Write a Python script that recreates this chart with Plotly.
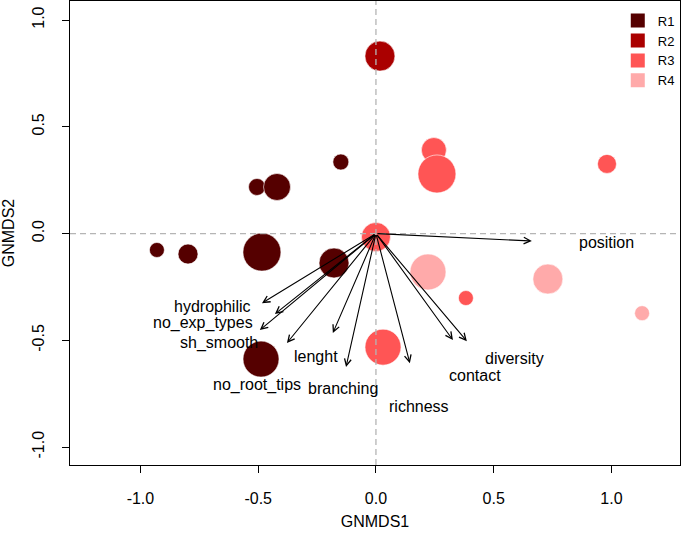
import plotly.graph_objects as go

# ---- data -------------------------------------------------------------
groups = ["R1", "R2", "R3", "R4"]
group_colors = ["#550000", "#aa0000", "#ff5555", "#ffaaaa"]

r1_x = [-0.149, -0.505, -0.420, -0.930, -0.798, -0.484, -0.178, -0.488]
r1_y = [0.335, 0.218, 0.218, -0.077, -0.096, -0.087, -0.138, -0.588]
r1_cex = [1.6, 1.7, 2.7, 1.5, 2.0, 3.8, 3.0, 3.6]

r2_x = [0.017]
r2_y = [0.831]
r2_cex = [3.0]

r3_x = [0.246, 0.259, 0.981, 0.382, 0.000, 0.030]
r3_y = [0.391, 0.279, 0.326, -0.302, -0.016, -0.532]
r3_cex = [2.5, 3.8, 1.9, 1.5, 2.9, 3.6]

r4_x = [0.221, 0.730, 1.130]
r4_y = [-0.180, -0.213, -0.373]
r4_cex = [3.6, 3.0, 1.5]

vec_names = ["hydrophilic", "no_exp_types", "sh_smooth", "no_root_tips", "lenght",
             "branching", "richness", "contact", "diversity", "position"]
vec_x = [-0.484, -0.429, -0.493, -0.378, -0.183, -0.127, 0.144, 0.327, 0.386, 0.662]
vec_y = [-0.326, -0.377, -0.452, -0.513, -0.466, -0.625, -0.607, -0.499, -0.504, -0.035]
lab_x = [-0.696, -0.735, -0.667, -0.505, -0.255, -0.140, 0.183, 0.420, 0.590, 0.981]
lab_y = [-0.340, -0.419, -0.513, -0.710, -0.578, -0.724, -0.808, -0.667, -0.583, -0.044]

tick_vals = [-1.0, -0.5, 0.0, 0.5, 1.0]
tick_text = ["-1.0", "-0.5", "0.0", "0.5", "1.0"]
x_range = [-1.299, 1.291]
y_range = [-1.084, 1.089]

FONT = "Liberation Sans, Arial, Helvetica, sans-serif"
SIZE_SCALE = 10

# ---- figure -----------------------------------------------------------
fig = go.Figure()

series = [(r1_x, r1_y, r1_cex), (r2_x, r2_y, r2_cex), (r3_x, r3_y, r3_cex), (r4_x, r4_y, r4_cex)]
for name, color, (xs, ys, cex) in zip(groups, group_colors, series):
    fig.add_trace(go.Scatter(
        x=xs, y=ys, mode="markers", showlegend=False, hoverinfo="skip",
        marker=dict(color=color, size=[c * SIZE_SCALE for c in cex], opacity=1,
                    line=dict(color="rgba(255,255,255,0.6)", width=1)),
    ))

# legend-only entries
for name, color in zip(groups, group_colors):
    fig.add_trace(go.Scatter(
        x=[None], y=[None], mode="markers", name=name, showlegend=True,
        marker=dict(color=color, symbol="square", size=14, opacity=1, line=dict(width=0)),
    ))

# dashed reference lines
fig.add_shape(type="line", xref="x", yref="paper", x0=0, x1=0, y0=0, y1=1,
              line=dict(color="#b5b5b5", width=1.3, dash="6px,4px"), layer="above")
fig.add_shape(type="line", xref="paper", yref="y", x0=0, x1=1, y0=0, y1=0,
              line=dict(color="#b5b5b5", width=1.3, dash="6px,4px"), layer="above")

# arrows + labels
for name, vx, vy, lx, ly in zip(vec_names, vec_x, vec_y, lab_x, lab_y):
    fig.add_annotation(x=vx, y=vy, ax=0, ay=0, xref="x", yref="y", axref="x", ayref="y",
                       text="", showarrow=True, arrowhead=5, arrowsize=1.2,
                       arrowwidth=1.1, arrowcolor="black", standoff=0, startstandoff=0)
    fig.add_annotation(x=lx, y=ly, xref="x", yref="y", text=name, showarrow=False,
                       xanchor="center", yanchor="middle",
                       font=dict(family=FONT, size=16, color="black"))

axis_common = dict(
    showgrid=False, zeroline=False, showline=True, mirror=True, automargin=False,
    linecolor="black", linewidth=1, ticks="outside", ticklen=7, tickwidth=1,
    tickcolor="black", tickvals=tick_vals, ticktext=tick_text,
    tickfont=dict(family=FONT, size=16, color="black"),
)

fig.update_layout(
    width=685, height=538,
    margin=dict(l=70, r=5, t=1, b=73),
    paper_bgcolor="white", plot_bgcolor="white",
    font=dict(family=FONT, color="black"),
    xaxis=dict(range=x_range, title=dict(text="GNMDS1", font=dict(family=FONT, size=16), standoff=9),
               ticklabelstandoff=12, **axis_common),
    yaxis=dict(range=y_range, title=dict(text="GNMDS2", font=dict(family=FONT, size=16), standoff=10),
               tickangle=-90, ticklabelstandoff=12, **axis_common),
    legend=dict(x=0.898, y=0.99, xanchor="left", yanchor="top",
                font=dict(family=FONT, size=13, color="black"),
                bgcolor="rgba(0,0,0,0)", borderwidth=0, tracegroupgap=0),
)

fig.write_html("out.html", config={"displayModeBar": False},
               post_script="document.body.style.margin='0';document.body.style.padding='0';")
